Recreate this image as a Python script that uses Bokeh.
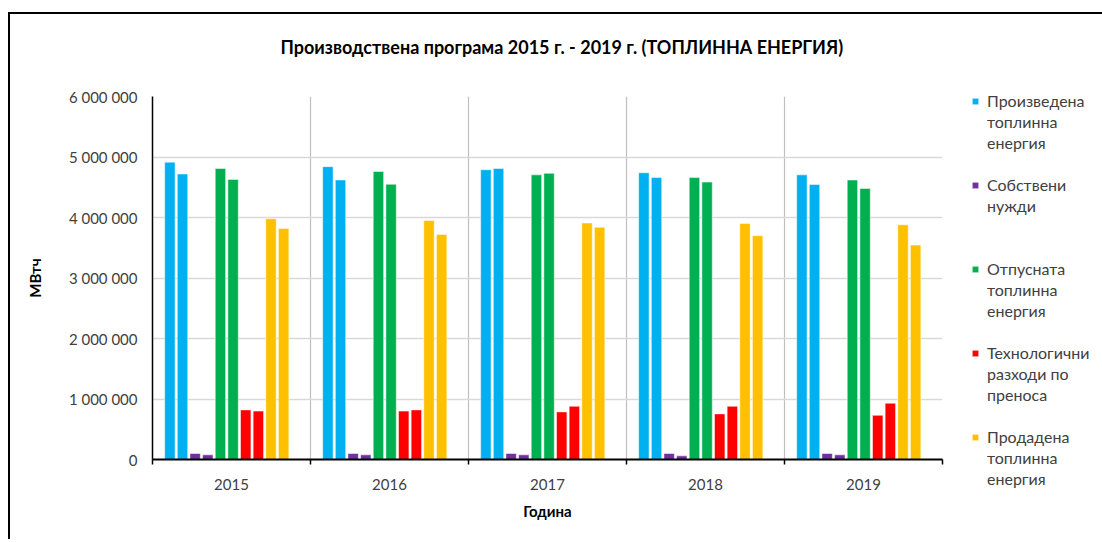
from bokeh.plotting import figure
from bokeh.models import Range1d, FixedTicker, Legend, LegendItem, ColumnDataSource
from bokeh.transform import dodge
from bokeh.embed import file_html
from bokeh.resources import INLINE

years = ["2015", "2016", "2017", "2018", "2019"]
produced_a = [4915000, 4840000, 4790000, 4740000, 4705000]
produced_b = [4720000, 4620000, 4810000, 4660000, 4546000]
own_a = [99000, 99000, 99000, 99000, 99000]
own_b = [77000, 77000, 77000, 60000, 77000]
released_a = [4810000, 4760000, 4705000, 4660000, 4620000]
released_b = [4630000, 4550000, 4730000, 4585000, 4480000]
losses_a = [820000, 800000, 787000, 754000, 730000]
losses_b = [800000, 820000, 880000, 880000, 930000]
sold_a = [3980000, 3950000, 3910000, 3900000, 3880000]
sold_b = [3820000, 3720000, 3840000, 3700000, 3544000]

series_labels = [
    "Произведена\nтоплинна\nенергия",
    "Собствени\nнужди\n ",
    "Отпусната\nтоплинна\nенергия",
    "Технологични\nразходи по\nпреноса",
    "Продадена\nтоплинна\nенергия",
]
series_colors = ["#00B0F0", "#7030A0", "#00B050", "#FF0000", "#FFC000"]
series_values = [
    (produced_a, produced_b),
    (own_a, own_b),
    (released_a, released_b),
    (losses_a, losses_b),
    (sold_a, sold_b),
]

y_ticks = [0, 1000000, 2000000, 3000000, 4000000, 5000000, 6000000]
y_tick_labels = ["0", "1 000 000", "2 000 000", "3 000 000", "4 000 000", "5 000 000", "6 000 000"]

chart_title = "Производствена програма 2015 г. - 2019 г. (ТОПЛИННА ЕНЕРГИЯ)"

FONT = "Lato"

data = {"x": [i + 0.5 for i in range(len(years))]}
for k, (a, b) in enumerate(series_values):
    data[f"s{k}a"] = a
    data[f"s{k}b"] = b
src = ColumnDataSource(data)

p = figure(
    x_range=Range1d(0, len(years)),
    y_range=Range1d(0, 6000000),
    frame_width=790, frame_height=363,
    min_border_left=142, min_border_top=82, min_border_bottom=80, min_border_right=158,
    output_backend="svg", toolbar_location=None,
    title=chart_title + "\n ",
    styles={"border-left": "2px solid black", "border-top": "2px solid black",
            "margin-top": "12px", "margin-left": "8px"},
)
p.outline_line_color = None
p.background_fill_color = "white"
p.border_fill_color = "white"

p.title.align = "left"
p.title.offset = 128
p.title.vertical_align = "bottom"
p.title.text_font = FONT
p.title.text_font_size = "18px"
p.title.text_font_style = "bold"
p.title.text_color = "#000000"
p.title.standoff = 34

bar_w = 0.066
start = -0.39
pitch = 0.08
items = []
for k in range(5):
    ra = p.vbar(x=dodge("x", start + pitch * (2 * k), range=p.x_range), top=f"s{k}a", width=bar_w,
                bottom=0, source=src, fill_color=series_colors[k], line_color="white", line_alpha=0.5, line_width=1)
    rb = p.vbar(x=dodge("x", start + pitch * (2 * k + 1), range=p.x_range), top=f"s{k}b", width=bar_w,
                bottom=0, source=src, fill_color=series_colors[k], line_color="white", line_alpha=0.5, line_width=1)
    lines = series_labels[k].split("\n")
    for j, line in enumerate(lines):
        items.append(LegendItem(label=line if line.strip() else " ", renderers=[ra] if j == 0 else []))
    if k < 4:
        items.append(LegendItem(label=" ", renderers=[]))

# Y axis
p.yaxis.ticker = FixedTicker(ticks=y_ticks)
p.yaxis.major_label_overrides = {t: l for t, l in zip(y_ticks, y_tick_labels)}
p.yaxis.major_tick_line_color = None
p.yaxis.minor_tick_line_color = None
p.yaxis.major_tick_out = 0
p.yaxis.major_label_standoff = 15
p.yaxis.axis_line_color = "black"
p.yaxis.axis_line_width = 1.5
p.yaxis.major_label_text_font = FONT
p.yaxis.major_label_text_font_size = "15px"
p.yaxis.major_label_text_color = "#404040"
p.yaxis.axis_label = "МВтч"
p.yaxis.axis_label_text_font = FONT
p.yaxis.axis_label_text_font_size = "15px"
p.yaxis.axis_label_text_font_style = "bold"
p.yaxis.axis_label_text_color = "#000000"
p.yaxis.axis_label_standoff = 22

# X axis
p.xaxis.ticker = FixedTicker(ticks=[i + 0.5 for i in range(len(years))],
                             minor_ticks=[float(i) for i in range(len(years) + 1)])
p.xaxis.major_label_overrides = {i + 0.5: y for i, y in enumerate(years)}
p.xaxis.major_tick_line_color = None
p.xaxis.major_tick_out = 0
p.xaxis.major_tick_in = 0
p.xaxis.minor_tick_line_color = "black"
p.xaxis.minor_tick_line_width = 1.5
p.xaxis.minor_tick_out = 5
p.xaxis.minor_tick_in = 0
p.xaxis.major_label_standoff = 14
p.xaxis.axis_line_color = "black"
p.xaxis.axis_line_width = 2
p.xaxis.major_label_text_font = FONT
p.xaxis.major_label_text_font_size = "15px"
p.xaxis.major_label_text_color = "#404040"
p.xaxis.axis_label = "Година"
p.xaxis.axis_label_text_font = FONT
p.xaxis.axis_label_text_font_size = "15px"
p.xaxis.axis_label_text_font_style = "bold"
p.xaxis.axis_label_text_color = "#000000"
p.xaxis.axis_label_standoff = 9

# Grids
p.ygrid.grid_line_color = "#D9D9D9"
p.ygrid.grid_line_width = 1.5
p.xgrid.grid_line_color = None
p.xgrid.minor_grid_line_color = "#BFBFBF"
p.xgrid.minor_grid_line_width = 1.2

legend = Legend(
    items=items, location=(29, -30),
    border_line_color=None, background_fill_alpha=0,
    glyph_width=8, glyph_height=8, label_standoff=8, spacing=0, padding=0, margin=0,
    label_height=21,
    label_text_font=FONT, label_text_font_size="16px", label_text_color="#404040",
)
p.add_layout(legend, "right")

open("out.html", "w").write(file_html(p, INLINE))
